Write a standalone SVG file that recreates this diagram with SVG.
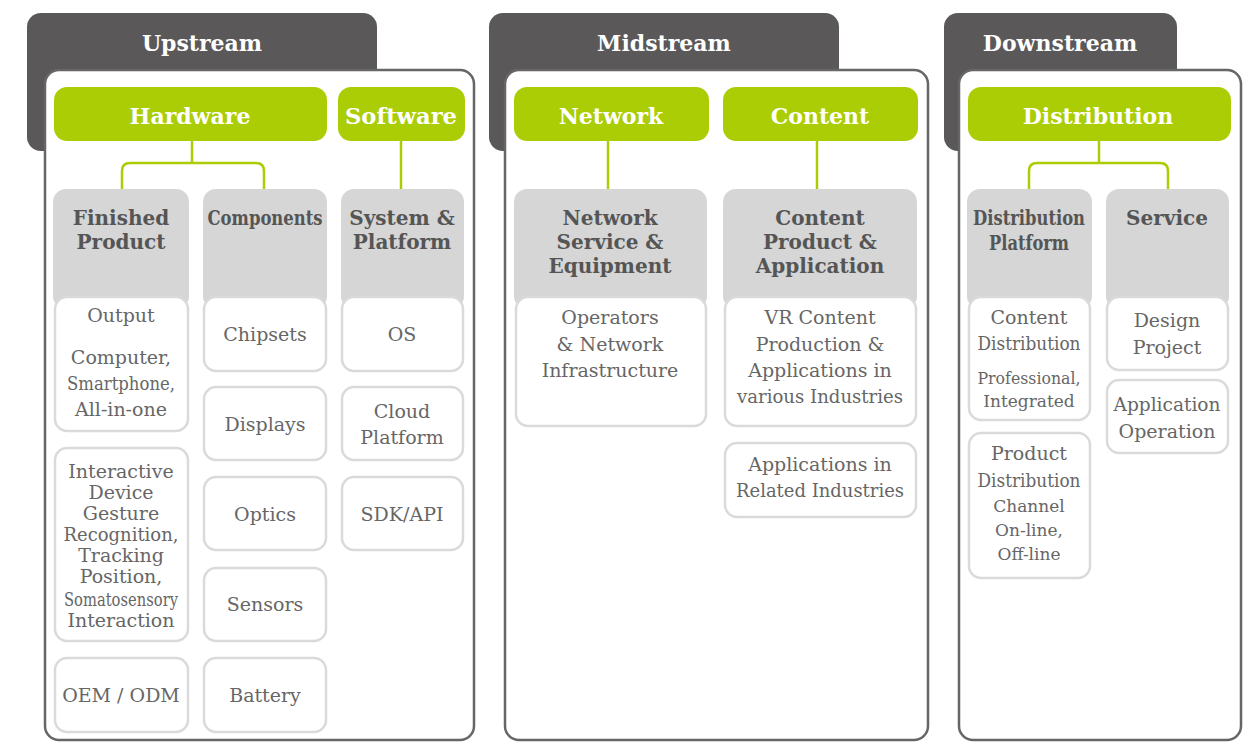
<svg xmlns="http://www.w3.org/2000/svg" width="1249" height="743" viewBox="0 0 1249 743">
<style>
.tab{fill:#5a5859}
.panel{fill:#fff;stroke:#666;stroke-width:2.5}
.green{fill:#abcd05}
.cat{fill:#d6d6d6}
.card{fill:#fff;stroke:#dadada;stroke-width:2.5}
.conn{fill:none;stroke:#abcd05;stroke-width:2.5}
text{font-family:"DejaVu Serif","Liberation Serif",serif;text-anchor:middle}
.tt{font-weight:bold;font-size:22px;fill:#fff}
.tc{font-weight:bold;font-size:20px;fill:#555}
.tk{font-size:19px;fill:#666}
.ts{font-size:17px;fill:#666}
</style>
<rect width="1249" height="743" fill="#fff"/>

<!-- Upstream -->
<g id="upstream">
<rect class="tab" x="27" y="13" width="350" height="138" rx="14"/>
<text class="tt" x="202" y="51">Upstream</text>
<rect class="panel" x="45" y="70" width="429" height="670" rx="14"/>
</g>
<!-- Midstream -->
<g id="midstream">
<rect class="tab" x="489" y="13" width="350" height="138" rx="14"/>
<text class="tt" x="664" y="51">Midstream</text>
<rect class="panel" x="505" y="70" width="423" height="670" rx="14"/>
</g>
<!-- Downstream -->
<g id="downstream">
<rect class="tab" x="944" y="13" width="233" height="138" rx="14"/>
<text class="tt" x="1060" y="51">Downstream</text>
<rect class="panel" x="959" y="70" width="282" height="670" rx="14"/>
</g>

<g id="connectors">
<path class="conn" d="M192 141V163M122 190V171Q122 163 130 163H256Q264 163 264 171V190"/>
<path class="conn" d="M401 141V190"/>
<path class="conn" d="M608 141V190"/>
<path class="conn" d="M817 141V190"/>
<path class="conn" d="M1099 141V163M1029 190V171Q1029 163 1037 163H1160Q1168 163 1168 171V190"/>
</g>

<g id="hardware"><rect class="green" x="54" y="87" width="273" height="54" rx="13"/><text class="tt" x="190" y="124">Hardware</text></g>
<g id="software"><rect class="green" x="338" y="87" width="127" height="54" rx="13"/><text class="tt" x="401" y="124" textLength="112" lengthAdjust="spacingAndGlyphs">Software</text></g>
<g id="network"><rect class="green" x="514" y="87" width="195" height="54" rx="13"/><text class="tt" x="611" y="124">Network</text></g>
<g id="content"><rect class="green" x="723" y="87" width="195" height="54" rx="13"/><text class="tt" x="820" y="124">Content</text></g>
<g id="distribution"><rect class="green" x="968" y="87" width="263" height="54" rx="13"/><text class="tt" x="1098" y="124">Distribution</text></g>

<!-- category headers -->
<g id="finished-product"><rect class="cat" x="53" y="189" width="136" height="120" rx="13"/><text class="tc" x="121" y="225">Finished</text><text class="tc" x="121" y="249">Product</text></g>
<g id="components"><rect class="cat" x="203" y="189" width="124" height="120" rx="13"/><text class="tc" x="265" y="225" textLength="115" lengthAdjust="spacingAndGlyphs">Components</text></g>
<g id="system-platform"><rect class="cat" x="341" y="189" width="123" height="120" rx="13"/><text class="tc" x="402" y="225">System &amp;</text><text class="tc" x="402" y="249">Platform</text></g>
<g id="network-service"><rect class="cat" x="514" y="189" width="193" height="120" rx="13"/><text class="tc" x="610" y="225">Network</text><text class="tc" x="610" y="249">Service &amp;</text><text class="tc" x="610" y="273">Equipment</text></g>
<g id="content-product"><rect class="cat" x="723" y="189" width="194" height="120" rx="13"/><text class="tc" x="820" y="225">Content</text><text class="tc" x="820" y="249">Product &amp;</text><text class="tc" x="820" y="273">Application</text></g>
<g id="distribution-platform"><rect class="cat" x="967" y="189" width="125" height="120" rx="13"/><text class="tc" x="1029" y="225" textLength="112" lengthAdjust="spacingAndGlyphs">Distribution</text><text class="tc" x="1029" y="250" textLength="80" lengthAdjust="spacingAndGlyphs">Platform</text></g>
<g id="service"><rect class="cat" x="1106" y="189" width="123" height="120" rx="13"/><text class="tc" x="1167" y="225">Service</text></g>

<!-- cards -->
<g id="output"><rect class="card" x="55" y="297" width="133" height="134" rx="12"/><text class="tk" x="121" y="322">Output</text><text class="tk" x="121" y="364">Computer,</text><text class="tk" x="121" y="390" textLength="108" lengthAdjust="spacingAndGlyphs">Smartphone,</text><text class="tk" x="121" y="416">All-in-one</text></g>
<g id="interactive"><rect class="card" x="55" y="448" width="133" height="193" rx="12"/>
<text class="tk" x="121" y="478">Interactive</text><text class="tk" x="121" y="499">Device</text><text class="tk" x="121" y="520">Gesture</text><text class="tk" x="121" y="541" textLength="115" lengthAdjust="spacingAndGlyphs">Recognition,</text><text class="tk" x="121" y="562">Tracking</text><text class="tk" x="121" y="583">Position,</text><text class="tk" x="121" y="606" textLength="114" lengthAdjust="spacingAndGlyphs">Somatosensory</text><text class="tk" x="121" y="627">Interaction</text></g>
<g id="oem-odm"><rect class="card" x="55" y="658" width="133" height="74" rx="12"/><text class="tk" x="121" y="702">OEM / ODM</text></g>
<g id="chipsets"><rect class="card" x="204" y="297" width="122" height="74" rx="12"/><text class="tk" x="265" y="341">Chipsets</text></g>
<g id="displays"><rect class="card" x="204" y="387" width="122" height="73" rx="12"/><text class="tk" x="265" y="431">Displays</text></g>
<g id="optics"><rect class="card" x="204" y="477" width="122" height="73" rx="12"/><text class="tk" x="265" y="521">Optics</text></g>
<g id="sensors"><rect class="card" x="204" y="568" width="122" height="73" rx="12"/><text class="tk" x="265" y="611">Sensors</text></g>
<g id="battery"><rect class="card" x="204" y="658" width="122" height="74" rx="12"/><text class="tk" x="265" y="702">Battery</text></g>
<g id="os"><rect class="card" x="342" y="297" width="121" height="74" rx="12"/><text class="tk" x="402" y="341">OS</text></g>
<g id="cloud-platform"><rect class="card" x="342" y="387" width="121" height="73" rx="12"/><text class="tk" x="402" y="418">Cloud</text><text class="tk" x="402" y="444">Platform</text></g>
<g id="sdk-api"><rect class="card" x="342" y="477" width="121" height="73" rx="12"/><text class="tk" x="402" y="521">SDK/API</text></g>

<g id="operators"><rect class="card" x="516" y="297" width="190" height="129" rx="12"/><text class="tk" x="610" y="324">Operators</text><text class="tk" x="610" y="351">&amp; Network</text><text class="tk" x="610" y="377">Infrastructure</text></g>
<g id="vr-content"><rect class="card" x="725" y="297" width="191" height="129" rx="12"/><text class="tk" x="820" y="324">VR Content</text><text class="tk" x="820" y="351">Production &amp;</text><text class="tk" x="820" y="377">Applications in</text><text class="tk" x="820" y="403" textLength="166" lengthAdjust="spacingAndGlyphs">various Industries</text></g>
<g id="related-industries"><rect class="card" x="725" y="443" width="191" height="74" rx="12"/><text class="tk" x="820" y="471">Applications in</text><text class="tk" x="820" y="497" textLength="168" lengthAdjust="spacingAndGlyphs">Related Industries</text></g>

<g id="content-distribution"><rect class="card" x="969" y="297" width="121" height="123" rx="12"/><text class="tk" x="1029" y="324">Content</text><text class="tk" x="1029" y="350" textLength="103" lengthAdjust="spacingAndGlyphs">Distribution</text><text class="ts" x="1029" y="384" textLength="103" lengthAdjust="spacingAndGlyphs">Professional,</text><text class="ts" x="1029" y="407">Integrated</text></g>
<g id="product-distribution"><rect class="card" x="969" y="433" width="121" height="145" rx="12"/><text class="tk" x="1029" y="460">Product</text><text class="tk" x="1029" y="487" textLength="103" lengthAdjust="spacingAndGlyphs">Distribution</text><text class="ts" x="1029" y="512">Channel</text><text class="ts" x="1029" y="536">On-line,</text><text class="ts" x="1029" y="560">Off-line</text></g>
<g id="design-project"><rect class="card" x="1107" y="297" width="121" height="73" rx="12"/><text class="tk" x="1167" y="327">Design</text><text class="tk" x="1167" y="354">Project</text></g>
<g id="application-operation"><rect class="card" x="1107" y="380" width="121" height="73" rx="12"/><text class="tk" x="1167" y="411" textLength="107" lengthAdjust="spacingAndGlyphs">Application</text><text class="tk" x="1167" y="438">Operation</text></g>
</svg>
